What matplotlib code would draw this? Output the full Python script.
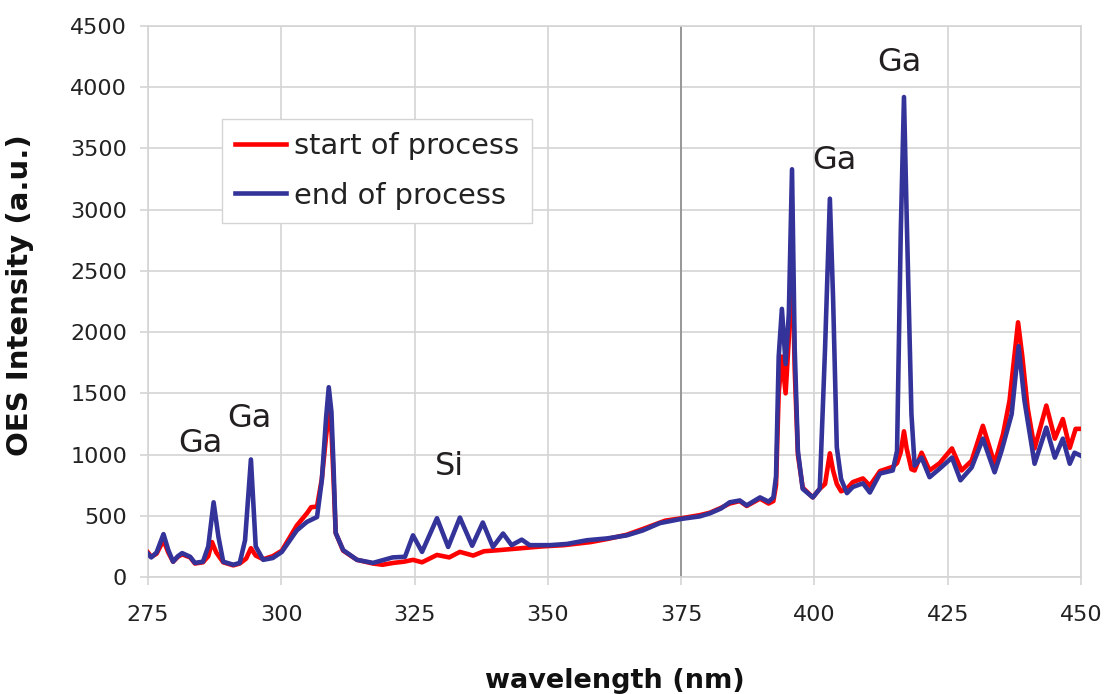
import matplotlib
matplotlib.use("Agg")
import matplotlib.pyplot as plt

# OES spectrum at the start of the etch process
wl_start = [275.0, 275.6, 276.6, 277.9, 278.8, 279.7, 280.6, 281.4, 282.9, 283.8,
            285.3, 286.3, 287.0, 287.8, 289.1, 291.0, 292.2, 293.4, 294.3, 295.2,
            296.6, 298.4, 300.1, 302.9, 304.8, 305.6, 306.7, 307.6, 308.4, 308.9,
            309.4, 309.8, 310.2, 311.6, 314.2, 317.2, 319.0, 321.0, 323.0, 324.7,
            326.4, 329.2, 331.5, 333.5, 336.0, 338.0, 341.0, 345.0, 349.0, 353.0,
            358.0, 361.1, 364.8, 368.0, 372.0, 375.1, 378.5, 380.4, 382.5, 384.1,
            386.0, 387.3, 389.8, 391.4, 392.3, 392.8, 393.3, 393.9, 394.6, 395.2,
            395.8, 396.3, 396.9, 397.8, 399.7, 401.0, 402.0, 402.9, 403.5, 404.2,
            405.0, 406.1, 407.2, 409.1, 410.4, 412.3, 414.7, 415.5, 416.2, 416.8,
            417.3, 418.2, 418.8, 420.1, 421.6, 423.5, 425.8, 427.6, 429.5, 431.6,
            433.8, 435.4, 436.6, 438.2, 439.0, 440.0, 441.3, 443.5, 445.1, 446.6,
            447.9, 449.0, 450.0]
int_start = [200, 165, 190, 300, 200, 125, 165, 185, 160, 110,
             120, 170, 285, 200, 120, 95, 110, 150, 235, 175,
             145, 170, 215, 420, 520, 570, 575, 800, 1150, 1340,
             1200, 800, 360, 215, 140, 110, 100, 115, 125, 140,
             120, 180, 160, 205, 175, 210, 220, 235, 250, 260,
             285, 310, 345, 395, 460, 480, 505, 525, 565, 600,
             620, 580, 640, 600, 620, 750, 1500, 1800, 1500, 1950,
             2700, 1700, 1000, 730, 650, 720, 760, 1010, 870, 760,
             700, 720, 775, 805, 745, 865, 900, 930, 1020, 1190,
             1050, 880, 870, 1015, 870, 930, 1050, 870, 950, 1235,
             925, 1170, 1440, 2080, 1800, 1380, 1050, 1400, 1130, 1290,
             1055, 1210, 1210]

# OES spectrum at the end of the etch process
wl_end = [275.0, 275.6, 276.6, 277.9, 278.8, 279.7, 280.6, 281.4, 282.9, 283.8,
          285.3, 286.3, 287.3, 288.2, 289.1, 291.0, 292.2, 293.2, 294.3, 295.2,
          296.6, 298.4, 300.1, 302.9, 304.8, 306.7, 307.6, 308.4, 308.9, 309.4,
          309.8, 310.2, 311.6, 314.2, 317.2, 320.9, 323.2, 324.7, 326.4, 329.2,
          331.3, 333.5, 335.8, 337.8, 339.7, 341.6, 343.2, 345.1, 346.6, 350.4,
          353.6, 357.3, 361.1, 364.8, 367.8, 371.0, 375.1, 378.5, 380.4, 382.5,
          384.1, 386.0, 387.3, 389.8, 391.4, 392.3, 392.8, 393.3, 393.9, 394.6,
          395.2, 395.8, 396.3, 396.9, 397.8, 399.7, 401.0, 402.0, 402.9, 403.5,
          404.2, 405.0, 406.1, 407.2, 409.1, 410.4, 412.3, 414.7, 415.5, 416.2,
          416.8, 417.3, 418.2, 418.8, 420.1, 421.6, 423.5, 425.8, 427.4, 429.5,
          431.6, 433.8, 435.1, 437.0, 438.3, 439.4, 441.3, 443.5, 445.1, 446.6,
          447.9, 448.8, 450.0]
int_end = [190, 160, 200, 350, 220, 125, 170, 195, 165, 115,
           125, 250, 610, 330, 125, 100, 115, 300, 960, 250,
           140, 155, 205, 380, 450, 490, 790, 1300, 1550, 1350,
           900, 360, 220, 140, 115, 160, 165, 340, 205, 480,
           245, 485, 255, 445, 245, 355, 260, 305, 260, 260,
           270, 300, 315, 340, 380, 440, 475, 495, 520, 560,
           610, 625, 585, 650, 615, 650, 820, 1800, 2190, 1740,
           2150, 3330, 1870, 1030, 720, 650, 720, 1870, 3090, 2280,
           1060, 800, 685, 735, 765, 690, 845, 870, 1030, 2820,
           3920, 2960, 1330, 910, 975, 815, 885, 975, 790, 895,
           1130, 855, 1030, 1330, 1885, 1440, 925, 1220, 975, 1130,
           925, 1015, 990]

# emission line labels: text, wavelength, intensity
line_labels = ["Ga", "Ga", "Si", "Ga", "Ga"]
label_wl = [284.8, 294.1, 331.5, 403.8, 416.0]
label_int = [1020, 1225, 830, 3335, 4135]

x_ticks = [275, 300, 325, 350, 375, 400, 425, 450]
y_ticks = [0, 500, 1000, 1500, 2000, 2500, 3000, 3500, 4000, 4500]

GRID = "#d4d4d4"

fig = plt.figure(figsize=(11.08, 6.94), dpi=100)
ax = fig.add_axes([0.1336, 0.1686, 0.8420, 0.7939])

ax.plot(wl_start, int_start, color="#ff0000", lw=3.3, label="start of process",
        solid_joinstyle="round", zorder=3)
ax.plot(wl_end, int_end, color="#333399", lw=3.3, label="end of process",
        solid_joinstyle="round", zorder=4)

for txt, x, y in zip(line_labels, label_wl, label_int):
    ax.text(x, y, txt, fontsize=23, color="#231f20", ha="center", va="baseline")

ax.set_xlim(275, 450)
ax.set_ylim(0, 4500)
ax.set_xticks(x_ticks)
ax.set_yticks(y_ticks)
ax.grid(True, color=GRID, lw=1.2, zorder=0)
ax.axvline(375, color="#8c8c8c", lw=1.2, zorder=1)
ax.set_axisbelow(True)

for side in ["top", "right", "left", "bottom"]:
    ax.spines[side].set_color(GRID)
    ax.spines[side].set_linewidth(1.2)
ax.tick_params(axis="both", colors=GRID, labelcolor="#222222", labelsize=16,
               length=6, width=1.2)
ax.tick_params(axis="x", pad=14)
ax.tick_params(axis="y", pad=9)

ax.set_xlabel("wavelength (nm)", fontsize=19.5, fontweight="bold", color="#111111")
ax.set_ylabel("OES Intensity (a.u.)", fontsize=21, fontweight="bold", color="#111111")
ax.xaxis.set_label_coords(0.5, -0.165)
ax.yaxis.set_label_coords(-0.122, 0.511)

leg = ax.legend(loc="upper left", bbox_to_anchor=(0.0793, 0.831), borderaxespad=0,
                fontsize=20.8, fancybox=False, framealpha=1, edgecolor=GRID,
                handlelength=1.75, handletextpad=0.3, labelspacing=0.74,
                borderpad=0.45)
for h in leg.get_lines():
    h.set_linewidth(3.3)
for t in leg.get_texts():
    t.set_color("#222222")

fig.savefig("out.png", dpi=100)
